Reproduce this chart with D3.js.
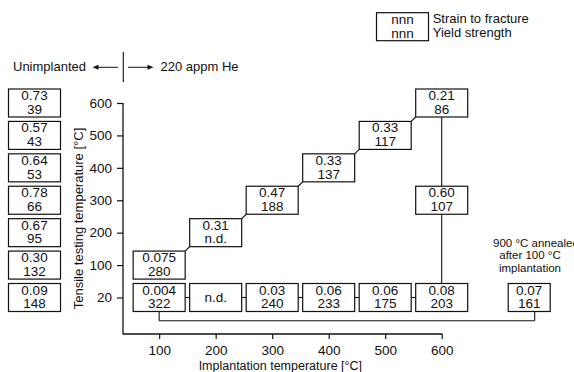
<!DOCTYPE html>
<html><head><meta charset="utf-8">
<script src="https://cdn.jsdelivr.net/npm/d3@7"></script>
<style>
body{margin:0;background:#fff}
svg{display:block;font-family:"Liberation Sans",Arial,Helvetica,sans-serif}
</style>
</head><body>
<svg id="c" width="574" height="372"></svg>
<script>
// ---- data ----
const testTemps = ["20","100","200","300","400","500","600"];
const implTemps = [100, 200, 300, 400, 500, 600];
const xTicks = [100, 200, 300, 400, 500, 600];

// unimplanted, by testing temperature (ascending)
const unimplStrain = ["0.09","0.30","0.67","0.78","0.64","0.57","0.73"];
const unimplYield  = ["148","132","95","66","53","43","39"];

// implanted, tested at implantation temperature
const stepTest   = ["100","200","300","400","500","600"];
const stepStrain = ["0.075","0.31","0.47","0.33","0.33","0.21"];
const stepYield  = ["280","n.d.","188","137","117","86"];

// implanted, tested at 20 °C
const rtStrain = ["0.004","n.d.","0.03","0.06","0.06","0.08"];
const rtYield  = ["322","","240","233","175","203"];

// extra: 600 °C implantation tested at 300 °C
const extraImpl = 600, extraTest = "300", extraStrain = "0.60", extraYield = "107";
// 900 °C anneal after 100 °C implantation, tested at 20 °C
const annealStrain = "0.07", annealYield = "161";

// ---- drawing ----
const svg = d3.select("#c");
const ink = "#111";
const x = d3.scaleLinear().domain([36, 600]).range([123, 441.7]);
const y = d3.scalePoint().domain(testTemps).range([297.5, 103]);
const axisYpos = 334;
const BW = 52, BH = 28;

function box(cx, cy, l1, l2, w) {
  w = w || BW;
  const g = svg.append("g");
  g.append("rect").attr("x", cx - w/2).attr("y", cy - BH/2).attr("width", w).attr("height", BH)
    .attr("fill", "#fff").attr("stroke", ink).attr("stroke-width", 1.2);
  const t = g.append("g").attr("font-size", 13.5).attr("fill", ink).attr("text-anchor", "middle");
  if (l2) {
    t.append("text").attr("x", cx).attr("y", cy - 3).text(l1);
    t.append("text").attr("x", cx).attr("y", cy + 10.8).text(l2);
  } else {
    t.append("text").attr("x", cx).attr("y", cy + 4.5).text(l1);
  }
}
function line(x1, y1, x2, y2, sw) {
  svg.append("line").attr("x1", x1).attr("y1", y1).attr("x2", x2).attr("y2", y2)
    .attr("stroke", ink).attr("stroke-width", sw || 1.1);
}

// axes
const yAxis = d3.axisLeft(y).tickSize(6).tickSizeOuter(0).tickPadding(5);
const gy = svg.append("g").attr("transform", `translate(${x.range()[0]},0)`).call(yAxis);
const xAxis = d3.axisBottom(x).tickValues(xTicks).tickSize(5).tickSizeOuter(0).tickPadding(6);
const gx = svg.append("g").attr("transform", `translate(0,${axisYpos})`).call(xAxis);
[gx, gy].forEach(g => {
  g.select(".domain").remove();
  g.selectAll("line").attr("stroke", ink).attr("stroke-width", 1.2);
  g.selectAll("text").attr("font-size", 13.5).attr("fill", ink).attr("font-family", null);
});
line(x.range()[0], y("600"), x.range()[0], axisYpos + 0.6, 1.3);
line(x.range()[0], axisYpos, x(600) + 0.6, axisYpos, 1.3);

svg.append("text").attr("transform", `translate(83,${(y("600") + axisYpos)/2}) rotate(-90)`)
  .attr("text-anchor", "middle").attr("font-size", 13).attr("fill", ink)
  .text("Tensile testing temperature [°C]");
svg.append("text").attr("x", (x.range()[0] + x(600))/2 - 2).attr("y", 370)
  .attr("text-anchor", "middle").attr("font-size", 12.5).attr("fill", ink)
  .text("Implantation temperature [°C]");

// connectors (drawn first)
implTemps.forEach((t, i) => {
  if (i < implTemps.length - 1) {
    line(x(t) + BW/2, y(stepTest[i]) - BH/2, x(implTemps[i+1]) - BW/2, y(stepTest[i+1]) + BH/2);
    line(x(t) + BW/2, y("20"), x(implTemps[i+1]) - BW/2, y("20"));
  }
});
line(x(600), y("600") + BH/2, x(600), y("20") - BH/2);
const annealCx = x(600) + 87.5;
const linkY = 320.7;
line(x(100), y("20") + BH/2, x(100), linkY);
line(x(100), linkY, annealCx + 5.5, linkY);
line(annealCx + 5.5, linkY, annealCx + 5.5, y("20") + BH/2);

// unimplanted column
testTemps.forEach((t, i) => box(34.5, y(t), unimplStrain[i], unimplYield[i]));

// implanted boxes
implTemps.forEach((t, i) => {
  box(x(t), y(stepTest[i]), stepStrain[i], stepYield[i]);
  box(x(t), y("20"), rtStrain[i], rtYield[i]);
});
box(x(extraImpl), y(extraTest), extraStrain, extraYield);
box(annealCx, y("20"), annealStrain, annealYield, 42);

// anneal label
const al = svg.append("g").attr("font-size", 11.5).attr("fill", ink);
al.append("text").attr("x", 493).attr("y", 246.8).text("900 °C annealed");
al.append("text").attr("x", 530).attr("y", 259.3).attr("text-anchor", "middle").text("after 100 °C");
al.append("text").attr("x", 530).attr("y", 271.6).attr("text-anchor", "middle").text("implantation");

// header
const hd = svg.append("g").attr("font-size", 13).attr("fill", ink);
hd.append("text").attr("x", 13).attr("y", 71).text("Unimplanted");
hd.append("text").attr("x", 160.5).attr("y", 71).text("220 appm He");
line(123.3, 52, 123.3, 82, 1.1);
line(118, 67.3, 97, 67.3, 1);
svg.append("path").attr("d", "M92.5,67.3 L98.5,64.8 L98.5,69.8 Z").attr("fill", ink);
line(128, 67.3, 149, 67.3, 1);
svg.append("path").attr("d", "M153.5,67.3 L147.5,64.8 L147.5,69.8 Z").attr("fill", ink);

// legend
box(402.5, 26.7, "nnn", "nnn");
const lg = svg.append("g").attr("font-size", 13).attr("fill", ink);
lg.append("text").attr("x", 432.7).attr("y", 23.2).text("Strain to fracture");
lg.append("text").attr("x", 432.7).attr("y", 36.6).text("Yield strength");
</script>
</body></html>
